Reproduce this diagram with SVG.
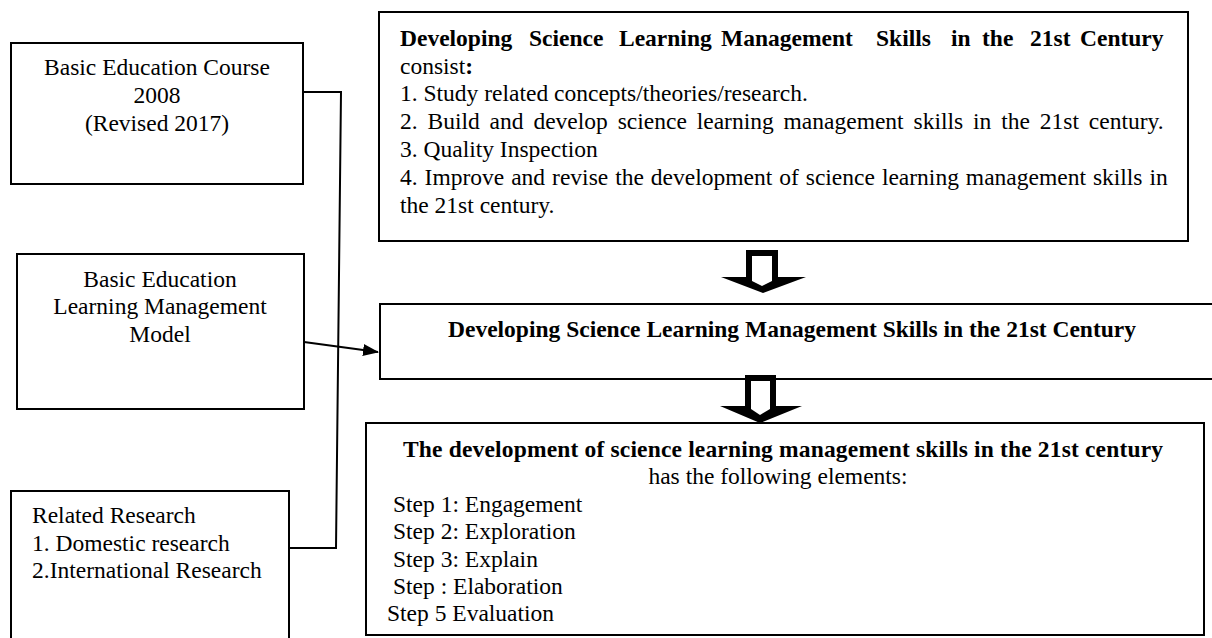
<svg xmlns="http://www.w3.org/2000/svg" width="1212" height="638" viewBox="0 0 1212 638">
<style>
.box{fill:#fff;stroke:#000;stroke-width:2}
.t{font-family:"Liberation Serif","Times New Roman",serif;font-size:23.5px;fill:#000}
.b{font-weight:bold}
.c{text-anchor:middle}
.con{fill:none;stroke:#000;stroke-width:2}
.blk{fill:#000;stroke:none}
.hole{fill:#fff;stroke:none}
</style>
<defs>
<marker id="ah" markerWidth="16" markerHeight="12" refX="15" refY="6" orient="auto" markerUnits="userSpaceOnUse">
<path d="M0,0 L16,6 L0,12 Z" fill="#000"/>
</marker>
</defs>
<rect width="1212" height="638" fill="#fff"/>

<g id="node-course">
<rect class="box" x="11" y="43" width="292" height="141"/>
<text class="t c" x="157" y="75">Basic Education Course</text>
<text class="t c" x="157" y="103">2008</text>
<text class="t c" x="157" y="131">(Revised 2017)</text>
</g>

<g id="node-model">
<rect class="box" x="17" y="254" width="287" height="155"/>
<text class="t c" x="160" y="287">Basic Education</text>
<text class="t c" x="160" y="314">Learning Management</text>
<text class="t c" x="160" y="342">Model</text>
</g>

<g id="node-research">
<rect class="box" x="11" y="491" width="278" height="160"/>
<text class="t" x="32" y="523">Related Research</text>
<text class="t" x="32" y="551">1. Domestic research</text>
<text class="t" x="32" y="578">2.International Research</text>
</g>

<g id="node-consist">
<rect class="box" x="379" y="12" width="809" height="229"/>
<text class="t b" y="46"><tspan x="400">Developing</tspan><tspan x="529">Science</tspan><tspan x="619">Learning</tspan><tspan x="721">Management</tspan><tspan x="876">Skills</tspan><tspan x="951">in</tspan><tspan x="982">the</tspan><tspan x="1030">21st</tspan><tspan x="1080">Century</tspan></text>
<text class="t" x="400" y="74">consist<tspan class="b">:</tspan></text>
<text class="t" x="400" y="101">1. Study related concepts/theories/research.</text>
<text class="t" x="400" y="129" word-spacing="4">2. Build and develop science learning management skills in the 21st century.</text>
<text class="t" x="400" y="157">3. Quality Inspection</text>
<text class="t" x="400" y="185" word-spacing="1.1">4. Improve and revise the development of science learning management skills in</text>
<text class="t" x="400" y="213">the 21st century.</text>
</g>

<g id="node-developing">
<path class="con" d="M1213,304 H380 V379 H1213"/>
<text class="t b" x="448" y="337">Developing Science Learning Management Skills in the 21st Century</text>
</g>

<g id="node-elements">
<rect class="box" x="366" y="423" width="838" height="212"/>
<text class="t b c" x="783" y="457" textLength="760" lengthAdjust="spacing">The development of science learning management skills in the 21st century</text>
<text class="t c" x="778" y="484">has the following elements:</text>
<text class="t" x="393" y="512">Step 1: Engagement</text>
<text class="t" x="393" y="539">Step 2: Exploration</text>
<text class="t" x="393" y="567">Step 3: Explain</text>
<text class="t" x="393" y="594">Step : Elaboration</text>
<text class="t" x="387" y="621">Step 5 Evaluation</text>
</g>

<g id="connectors">
<path class="con" d="M303,92 H341 L336,548 H290"/>
<path class="con" d="M304,342 L378,352" marker-end="url(#ah)"/>
<g id="block-arrow-1">
<polygon class="blk" points="746,250 778,250 778,277 806,277 763,293 721,277 746,277"/>
<polygon class="hole" points="752,256 772,256 772,281 762,286 752,281"/>
</g>
<g id="block-arrow-2">
<polygon class="blk" points="745,375 776,375 776,406 802,406 760,423 720,406 745,406"/>
<polygon class="hole" points="751,381 770,381 770,409 760,415 751,409"/>
</g>
</g>
</svg>
